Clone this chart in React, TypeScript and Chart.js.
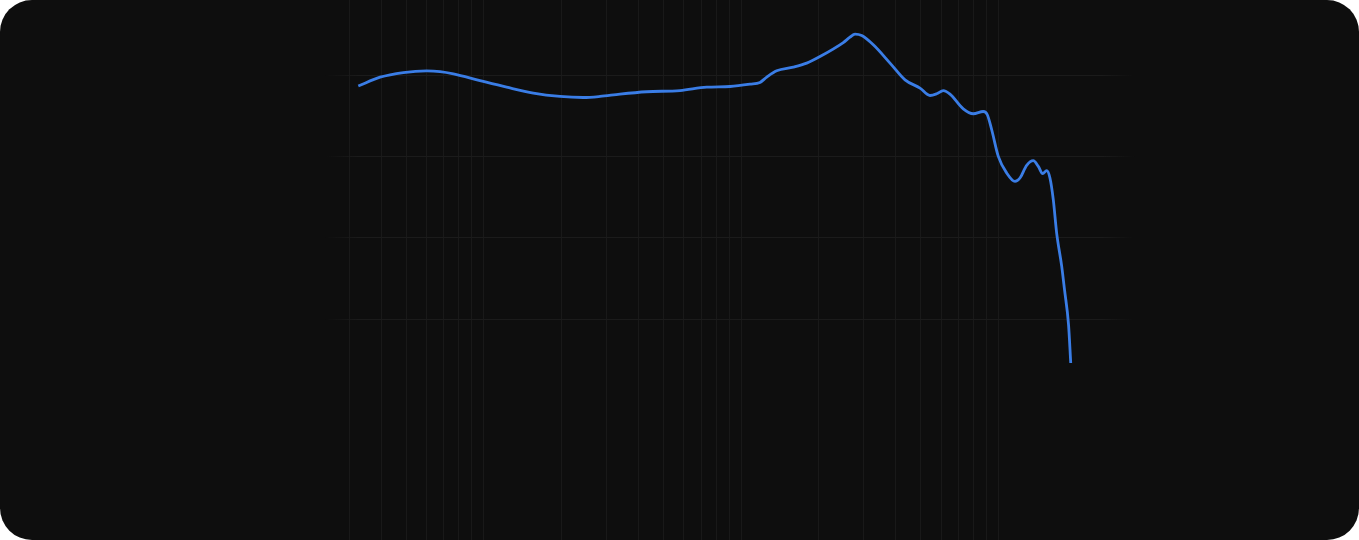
import React, { useEffect, useRef } from "react";
import { Chart, registerables } from "chart.js";

Chart.register(...registerables);

// Frequency (Hz) and level (dB)
const frequencies = [
  32.6, 39.6, 48.8, 60.1, 67.7, 76.3, 96.8, 122.9, 156, 198.1, 243.9, 283.3,
  338.8, 430.1, 579.4, 735.6, 906.5, 1084, 1185, 1259, 1376, 1597, 1800, 2027,
  2497, 2652, 2773, 2944, 3266, 3793, 4337, 4959, 5424, 5759, 6107, 6486, 7303,
  7990, 8735, 9056, 9419, 9991, 10770, 11600, 12130, 12880, 13660, 14290, 14860,
  15400, 15860, 16340, 16840, 17620, 18070, 18730, 19100,
];
const levels = [
  78.7, 79.8, 80.37, 80.58, 80.49, 80.21, 79.38, 78.57, 77.84, 77.42, 77.29,
  77.42, 77.71, 78.0, 78.15, 78.57, 78.65, 78.93, 79.14, 79.8, 80.58, 81.03,
  81.53, 82.34, 84.06, 84.72, 85.09, 84.92, 83.78, 81.53, 79.47, 78.45, 77.54,
  77.75, 78.15, 77.71, 75.9, 75.29, 75.57, 75.17, 73.32, 70.04, 68.0, 66.96,
  67.38, 68.93, 69.51, 68.81, 67.91, 68.28, 67.38, 64.71, 60.6, 56.5, 53.6,
  49.3, 44.6,
];
// Grid positions
const gridFrequencies = [
  30, 40, 50, 60, 70, 80, 90, 100, 200, 300, 400, 500, 600, 700, 800, 900, 1000,
  2000, 3000, 4000, 5000, 6000, 7000, 8000, 9000, 10000,
];
const gridLevels = [50, 60, 70, 80];

export default function App() {
  const canvasRef = useRef<HTMLCanvasElement | null>(null);

  useEffect(() => {
    document.body.style.margin = "0";
    const canvas = canvasRef.current;
    if (!canvas) return;
    const chart = new Chart(canvas, {
      type: "line",
      data: {
        datasets: [
          {
            data: frequencies.map((f, i) => ({ x: f, y: levels[i] })),
            borderColor: "#3a7de6",
            borderWidth: 2.8,
            pointRadius: 0,
            cubicInterpolationMode: "monotone",
            fill: false,
          },
        ],
      },
      options: {
        responsive: false,
        animation: false,
        layout: { padding: { left: 325, right: 224, top: 0, bottom: 0 } },
        plugins: { legend: { display: false }, tooltip: { enabled: false } },
        scales: {
          x: {
            type: "logarithmic",
            min: 24.2,
            max: 33940,
            afterBuildTicks: (scale: any) => {
              scale.ticks = gridFrequencies.map((v) => ({ value: v }));
            },
            ticks: { display: false },
            border: { display: false },
            grid: { color: "#191919", lineWidth: 1, drawTicks: false },
          },
          y: {
            type: "linear",
            min: 22.8,
            max: 89.3,
            afterBuildTicks: (scale: any) => {
              scale.ticks = gridLevels.map((v) => ({ value: v }));
            },
            ticks: { display: false },
            border: { display: false },
            grid: {
              drawTicks: false,
              lineWidth: 1,
              color: (ctx: any) => {
                const c = ctx.chart;
                const area = c.chartArea;
                if (!area) return "#1b1b1b";
                const g = c.ctx.createLinearGradient(area.left, 0, area.right, 0);
                g.addColorStop(0, "rgba(27,27,27,0)");
                g.addColorStop(0.04, "rgba(27,27,27,1)");
                g.addColorStop(0.96, "rgba(27,27,27,1)");
                g.addColorStop(1, "rgba(27,27,27,0)");
                return g;
              },
            },
          },
        },
      },
    });
    return () => chart.destroy();
  }, []);

  return (
    <div
      style={{
        position: "absolute",
        left: 0,
        top: 0,
        width: 1359,
        height: 540,
        borderRadius: 32,
        overflow: "hidden",
        background: "#0e0e0e",
      }}
    >
      <canvas ref={canvasRef} width={1359} height={540} style={{ display: "block" }} />
    </div>
  );
}
